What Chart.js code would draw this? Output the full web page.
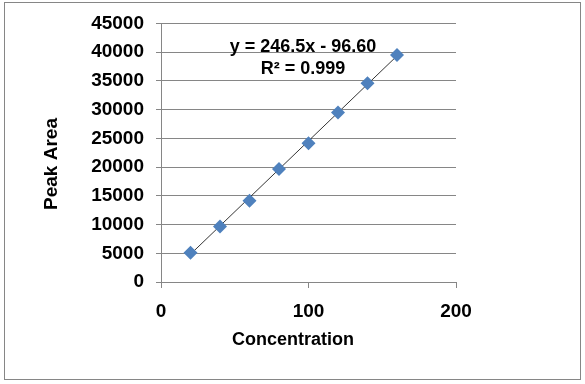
<!DOCTYPE html>
<html>
<head>
<meta charset="utf-8">
<script src="https://cdn.jsdelivr.net/npm/chart.js@4.4.1/dist/chart.umd.min.js"></script>
<style>
  html, body { margin: 0; padding: 0; background: #fff; }
  #wrap { position: relative; width: 585px; height: 384px; }
  #frame { position: absolute; left: 4px; top: 2px; width: 575px; height: 376px; border: 1px solid #868686; }
  canvas { position: absolute; left: 0; top: 0; }
</style>
</head>
<body>
<div id="wrap">
  <div id="frame"></div>
  <canvas id="chart" width="585" height="384"></canvas>
</div>
<script>
// calibration data
const concentration = [20, 40, 60, 80, 100, 120, 140, 160];
const peakArea = [5100, 9650, 14150, 19650, 24150, 29500, 34600, 39500];

// trendline end points (from the printed fit y = 246.5x - 96.60)
const trendX = [20, 160];
const trendY = [4834, 39344];

const equationText = 'y = 246.5x - 96.60';
const r2Text = 'R\u00b2 = 0.999';
const xTitle = 'Concentration';
const yTitle = 'Peak Area';

const xTicks = [0, 100, 200];
const yMax = 45000;
const yStep = 5000;

const labelFont = { family: 'Liberation Sans, Arial, sans-serif', size: 19, weight: 'bold' };
const gridColor = '#868686';

const textPlugin = {
    id: 'texts',
    afterDraw(chart) {
        const ctx = chart.ctx;
        ctx.save();
        ctx.fillStyle = '#000';
        ctx.textAlign = 'center';
        ctx.textBaseline = 'middle';

        ctx.font = 'bold 18px "Liberation Sans", Arial, sans-serif';
        ctx.fillText(equationText, 303, 47);
        ctx.fillText(r2Text, 303, 69);

        ctx.font = 'bold 18px "Liberation Sans", Arial, sans-serif';
        ctx.fillText(xTitle, 293, 340);

        ctx.font = 'bold 19px "Liberation Sans", Arial, sans-serif';
        ctx.translate(52, 164);
        ctx.rotate(-Math.PI / 2);
        ctx.fillText(yTitle, 0, 0);
        ctx.restore();
    }
};

new Chart(document.getElementById('chart'), {
    type: 'scatter',
    data: {
        datasets: [
            {
                label: 'Trend',
                type: 'line',
                data: trendX.map((x, i) => ({ x: x, y: trendY[i] })),
                borderColor: '#000',
                borderWidth: 0.8,
                pointRadius: 0,
                fill: false,
                order: 2
            },
            {
                label: 'Peak Area',
                data: concentration.map((x, i) => ({ x: x, y: peakArea[i] })),
                pointStyle: 'rectRot',
                pointRadius: 7,
                pointBackgroundColor: '#4F81BD',
                pointBorderColor: '#4F81BD',
                pointBorderWidth: 0,
                order: 1
            }
        ]
    },
    plugins: [textPlugin],
    options: {
        responsive: false,
        animation: false,
        layout: { padding: { top: 22, right: 129, left: 0, bottom: 0 } },
        plugins: {
            legend: { display: false },
            tooltip: { enabled: false }
        },
        scales: {
            x: {
                type: 'linear',
                min: 0,
                max: 200,
                afterBuildTicks: (scale) => {
                    scale.ticks = xTicks.map(v => ({ value: v }));
                },
                afterFit: (scale) => { scale.height = 102; },
                grid: {
                    drawOnChartArea: false,
                    drawTicks: true,
                    tickLength: 6,
                    color: gridColor
                },
                border: { color: gridColor },
                ticks: {
                    color: '#000',
                    font: labelFont,
                    padding: 12,
                    maxRotation: 0,
                    callback: (v) => String(v)
                }
            },
            y: {
                min: 0,
                max: yMax,
                afterFit: (scale) => { scale.width = 161; },
                grid: {
                    color: gridColor,
                    tickLength: 5
                },
                border: { color: gridColor },
                ticks: {
                    stepSize: yStep,
                    color: '#000',
                    font: labelFont,
                    padding: 12,
                    callback: (v) => String(v)
                }
            }
        }
    }
});
</script>
</body>
</html>
